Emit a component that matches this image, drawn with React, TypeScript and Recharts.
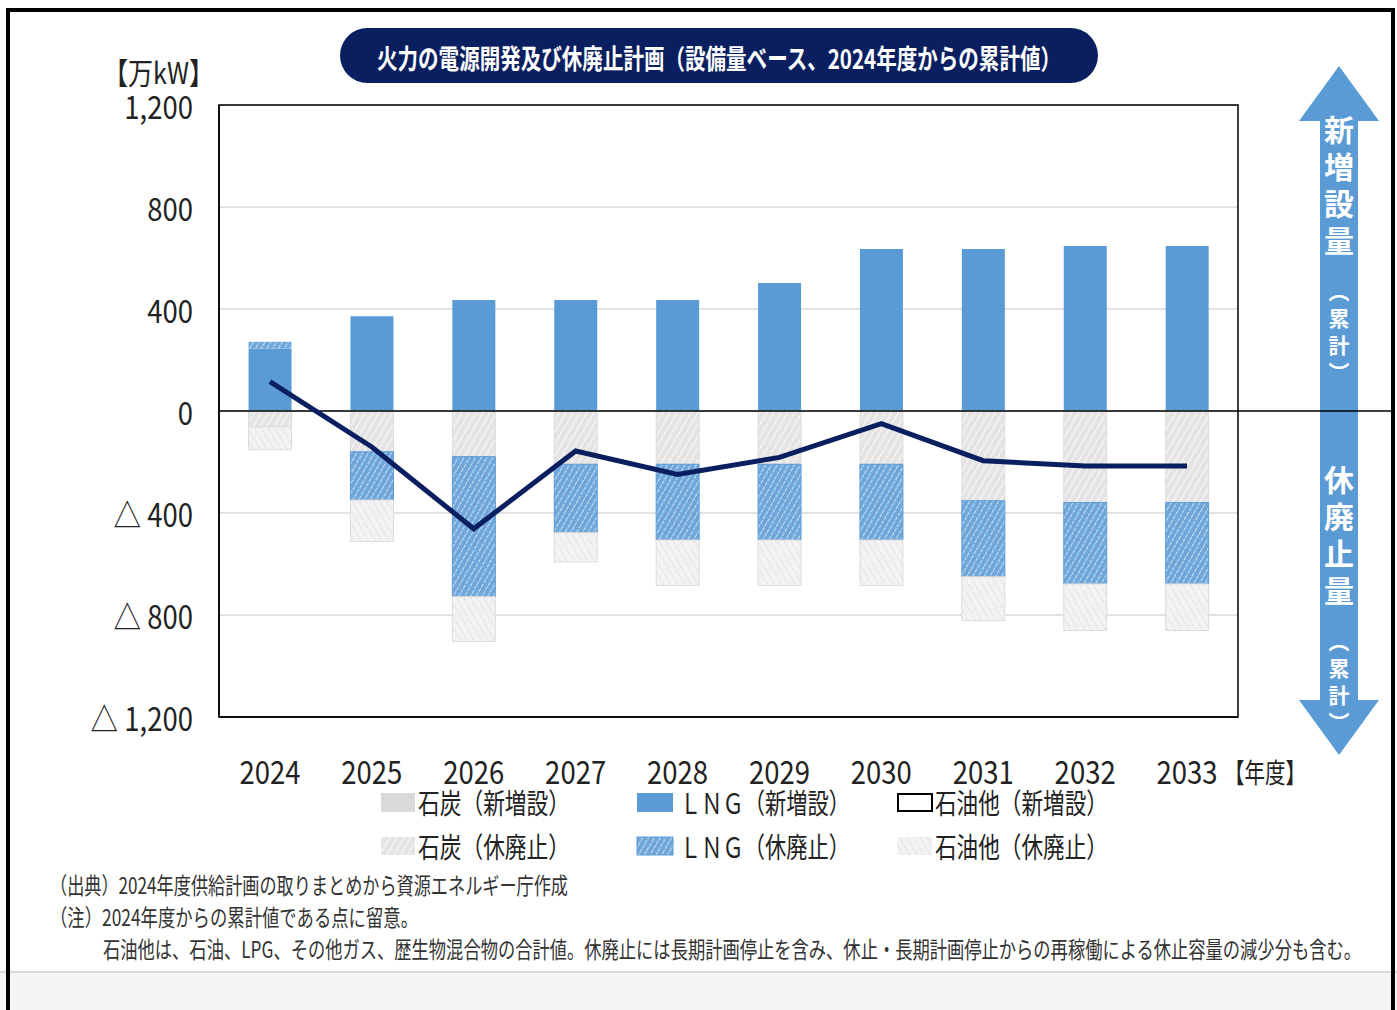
import { ComposedChart, Bar, Line, XAxis, YAxis, CartesianGrid, ReferenceLine, ReferenceArea } from "recharts";

const years = ["2024", "2025", "2026", "2027", "2028", "2029", "2030", "2031", "2032", "2033"];
// 万kW, cumulative from FY2024 (retirements negative)
const coalNew = [0, 0, 0, 0, 0, 0, 0, 0, 0, 0];
const lngNew = [245, 372, 435, 435, 435, 502, 635, 635, 647, 647];
const oilNew = [27, 0, 0, 0, 0, 0, 0, 0, 0, 0];
const coalRetire = [-62, -160, -179, -209, -209, -209, -209, -352, -359, -359];
const lngRetire = [0, -189, -549, -268, -297, -297, -297, -298, -319, -319];
const oilRetire = [-90, -163, -176, -115, -178, -178, -178, -172, -183, -183];
const netTotal = [115, -141, -462, -157, -249, -182, -50, -195, -216, -216];
const yTicks = [1200, 800, 400, 0, -400, -800, -1200];

const legendRows = [
  ["石炭（新増設）", "ＬＮＧ（新増設）", "石油他（新増設）"],
  ["石炭（休廃止）", "ＬＮＧ（休廃止）", "石油他（休廃止）"],
];

const FONT = '"Noto Sans CJK JP", "Noto Sans", sans-serif';
const BLUE = "#5b9bd5";
const NAVY = "#0a1f60";

const rows = years.map((y, i) => ({
  year: y,
  coalNew: coalNew[i],
  lngNew: lngNew[i],
  oilNew: oilNew[i],
  coalRetire: coalRetire[i],
  lngRetire: lngRetire[i],
  oilRetire: oilRetire[i],
  net: netTotal[i],
}));

const fmtY = (v: number) => {
  const s = Math.abs(v).toLocaleString("en-US");
  return v < 0 ? "△ " + s : s;
};

function YTick(props: any) {
  const { x, y, payload } = props;
  return (
    <g transform={`translate(${x - 18},${y}) scale(0.86,1)`}>
      <text x={0} y={0} textAnchor="end" dominantBaseline="central" fontSize={32} fill="#222" fontFamily={FONT}>
        {fmtY(payload.value)}
      </text>
    </g>
  );
}

function XTick(props: any) {
  const { x, y, payload } = props;
  return (
    <g transform={`translate(${x},${y + 45}) scale(0.86,1)`}>
      <text x={0} y={0} textAnchor="middle" dominantBaseline="central" fontSize={32} fill="#222" fontFamily={FONT}>
        {payload.value}
      </text>
    </g>
  );
}

function Patterns() {
  return (
    <svg width={0} height={0} style={{ position: "absolute" }}>
      <defs>
        <pattern id="coalHatch" width={6} height={6} patternUnits="userSpaceOnUse" patternTransform="rotate(30)">
          <rect width={6} height={6} fill="#e4e4e4" />
          <line x1={0} y1={0} x2={0} y2={6} stroke="#ffffff" strokeWidth={1.6} />
        </pattern>
        <pattern id="oilHatch" width={6} height={6} patternUnits="userSpaceOnUse" patternTransform="rotate(-30)">
          <rect width={6} height={6} fill="#f3f3f3" />
          <line x1={0} y1={0} x2={0} y2={6} stroke="#cfcfcf" strokeWidth={1.2} strokeDasharray="2 1" />
        </pattern>
        <pattern id="lngHatch" width={5} height={5} patternUnits="userSpaceOnUse" patternTransform="rotate(30)">
          <rect width={5} height={5} fill="#6fa7da" />
          <line x1={0} y1={0} x2={0} y2={5} stroke="#ffffff" strokeWidth={1.3} strokeDasharray="3 1" />
        </pattern>
      </defs>
    </svg>
  );
}

function VText({ chars, x, y0, step, size }: { chars: string; x: number; y0: number; step: number; size: number }) {
  return (
    <>
      {Array.from(chars).map((c, i) => (
        <text key={i} x={x} y={y0 + i * step} textAnchor="middle" dominantBaseline="central" fontSize={size} fontWeight={700} fill="#fff" fontFamily={FONT}>
          {c}
        </text>
      ))}
    </>
  );
}

function Overlay() {
  const legendIcons = [
    [
      <rect x={381} y={793} width={34} height={19} fill="#d9d9d9" />,
      <rect x={637} y={793} width={36} height={19} fill={BLUE} />,
      <rect x={898} y={794} width={34} height={17} fill="#fff" stroke="#000" strokeWidth={2} />,
    ],
    [
      <rect x={381} y={837} width={34} height={18} fill="url(#coalHatch)" />,
      <rect x={637} y={837} width={36} height={18} fill="url(#lngHatch)" stroke={BLUE} />,
      <rect x={897} y={837} width={35} height={18} fill="url(#oilHatch)" />,
    ],
  ];
  const legendX = [418, 680, 935];
  const legendW = [152, 170, 173];
  const legendY = [802, 846];
  return (
    <svg width={1397} height={1010} style={{ position: "absolute", left: 0, top: 0, pointerEvents: "none" }}>
      <rect x={340} y={28} width={758} height={55} rx={27.5} fill={NAVY} />
      <text x={377} y={57} dominantBaseline="central" fontSize={27} fontWeight={700} fill="#fff" fontFamily={FONT} textLength={684} lengthAdjust="spacingAndGlyphs">
        火力の電源開発及び休廃止計画（設備量ベース、2024年度からの累計値）
      </text>
      <text x={103} y={71} dominantBaseline="central" fontSize={30} fill="#222" fontFamily={FONT} textLength={111} lengthAdjust="spacingAndGlyphs">
        【万kW】
      </text>
      <text x={1224} y={771} dominantBaseline="central" fontSize={27} fill="#222" fontFamily={FONT} textLength={82} lengthAdjust="spacingAndGlyphs">
        【年度】
      </text>

      <polygon
        points="1339,66 1379,121 1358,121 1358,700 1379,700 1339,755 1299,700 1320,700 1320,121 1299,121"
        fill={BLUE}
      />
      <VText chars="新増設量" x={1339} y0={128} step={37} size={30} />
      <VText chars="︵累計︶" x={1339} y0={290} step={27} size={21} />
      <VText chars="休廃止量" x={1339} y0={478} step={37} size={30} />
      <VText chars="︵累計︶" x={1339} y0={640} step={27} size={21} />
      <line x1={1238} x2={1392} y1={411} y2={411} stroke="#000" strokeWidth={1.5} />

      {legendRows.map((row, r) =>
        row.map((label, c) => (
          <g key={`${r}-${c}`}>
            {legendIcons[r][c]}
            <text x={legendX[c]} y={legendY[r]} dominantBaseline="central" fontSize={28} fill="#222" fontFamily={FONT} textLength={legendW[c]} lengthAdjust="spacingAndGlyphs">
              {label}
            </text>
          </g>
        ))
      )}

      <text x={50} y={884} dominantBaseline="central" fontSize={23} fill="#333" fontFamily={FONT} textLength={518} lengthAdjust="spacingAndGlyphs">
        （出典）2024年度供給計画の取りまとめから資源エネルギー庁作成
      </text>
      <text x={50} y={916} dominantBaseline="central" fontSize={23} fill="#333" fontFamily={FONT} textLength={368} lengthAdjust="spacingAndGlyphs">
        （注）2024年度からの累計値である点に留意。
      </text>
      <text x={103} y={948} dominantBaseline="central" fontSize={23} fill="#333" fontFamily={FONT} textLength={1258} lengthAdjust="spacingAndGlyphs">
        石油他は、石油、LPG、その他ガス、歴生物混合物の合計値。休廃止には長期計画停止を含み、休止・長期計画停止からの再稼働による休止容量の減少分も含む。
      </text>
    </svg>
  );
}

export default function App() {
  return (
    <div style={{ position: "absolute", left: 0, top: 0, width: 1397, height: 1010, background: "#fff", overflow: "hidden" }}>
      <Patterns />
      <div style={{ position: "absolute", left: 0, top: 971, width: 1397, height: 39, background: "#f5f5f5", borderTop: "2px solid #d9d9d9" }} />
      <div style={{ position: "absolute", left: 6, top: 8, width: 1381, height: 1010, borderLeft: "4px solid #000", borderTop: "4px solid #000", borderRight: "4px solid #000" }} />
      <div style={{ position: "absolute", left: 0, top: 0 }}>
        <ComposedChart
          width={1397}
          height={1010}
          data={rows}
          stackOffset="sign"
          barCategoryGap="29%"
          margin={{ top: 105, right: 159, bottom: 233, left: 119 }}
        >
          <CartesianGrid vertical={false} stroke="#d9d9d9" strokeWidth={1.5} />
          <XAxis dataKey="year" height={60} tickLine={false} axisLine={{ stroke: "#000", strokeWidth: 1.5 }} tick={<XTick />} interval={0} />
          <YAxis domain={[-1200, 1200]} ticks={yTicks} width={100} tickLine={false} axisLine={{ stroke: "#000", strokeWidth: 1.5 }} tick={<YTick />} interval={0} />
          {/* plot frame */}
          <ReferenceArea y1={-1200} y2={1200} fill="none" fillOpacity={0} stroke="#000" strokeWidth={1.5} ifOverflow="visible" />
          <Bar dataKey="coalNew" stackId="s" fill="#d9d9d9" isAnimationActive={false} />
          <Bar dataKey="lngNew" stackId="s" fill={BLUE} isAnimationActive={false} />
          <Bar dataKey="oilNew" stackId="s" fill="url(#lngHatch)" isAnimationActive={false} />
          <Bar dataKey="coalRetire" stackId="s" fill="url(#coalHatch)" stroke="#dcdcdc" isAnimationActive={false} />
          <Bar dataKey="lngRetire" stackId="s" fill="url(#lngHatch)" stroke={BLUE} isAnimationActive={false} />
          <Bar dataKey="oilRetire" stackId="s" fill="url(#oilHatch)" stroke="#dcdcdc" isAnimationActive={false} />
          <ReferenceLine y={0} stroke="#000" strokeWidth={1.5} />
          <Line dataKey="net" stroke={NAVY} strokeWidth={5} dot={false} isAnimationActive={false} />
        </ComposedChart>
      </div>
      <Overlay />
    </div>
  );
}
